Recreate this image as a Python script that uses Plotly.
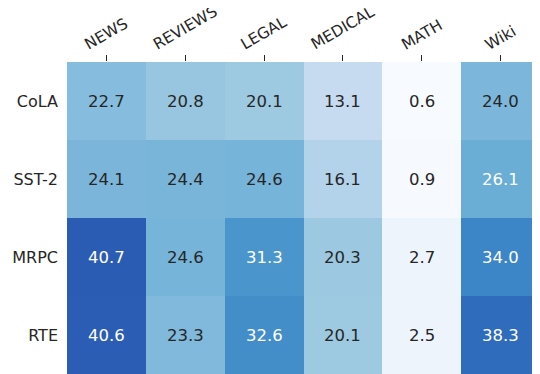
import plotly.graph_objects as go

domains = ["NEWS", "REVIEWS", "LEGAL", "MEDICAL", "MATH", "Wiki"]
tasks = ["CoLA", "SST-2", "MRPC", "RTE"]
cola = [22.7, 20.8, 20.1, 13.1, 0.6, 24.0]
sst2 = [24.1, 24.4, 24.6, 16.1, 0.9, 26.1]
mrpc = [40.7, 24.6, 31.3, 20.3, 2.7, 34.0]
rte = [40.6, 23.3, 32.6, 20.1, 2.5, 38.3]
z = [cola, sst2, mrpc, rte]

# colour anchors (value -> colour)
anchor_vals = [0.6, 2.6, 13.1, 16.1, 20.1, 22.7, 24.5, 26.1, 31.3, 34.0, 38.3, 40.7]
anchor_cols = ["#f7fbff", "#edf4fc", "#c6dbef", "#b3d3ea", "#9ecae1", "#86bcdd",
               "#78b4d9", "#6aaed6", "#4a95cb", "#3c85c7", "#2f6cbb", "#2b5cb4"]
zmin, zmax = anchor_vals[0], anchor_vals[-1]
colorscale = [[(v - zmin) / (zmax - zmin), c] for v, c in zip(anchor_vals, anchor_cols)]

FONT = "DejaVu Sans"
DARK = "#262626"

fig = go.Figure(go.Heatmap(
    z=z, x=domains, y=tasks, colorscale=colorscale, zmin=zmin, zmax=zmax,
    showscale=False, xgap=0, ygap=0, hoverinfo="skip"))

annotations = []
for r, row in enumerate(z):
    for c, val in enumerate(row):
        annotations.append(dict(
            x=domains[c], y=tasks[r], xref="x", yref="y", text=f"{val:.1f}",
            showarrow=False,
            font=dict(family=FONT, size=16.5,
                      color="#ffffff" if val > 25 else DARK)))

# rotated column labels centred on their ticks
for d in domains:
    annotations.append(dict(
        x=d, y=1, xref="x", yref="paper", text=d, textangle=-30,
        showarrow=False, xanchor="center", yanchor="bottom", yshift=7,
        borderpad=0, font=dict(family=FONT, size=15.5, color=DARK)))

fig.update_layout(
    width=532, height=366,
    margin=dict(l=59, r=0, t=54, b=0, autoexpand=False),
    paper_bgcolor="white", plot_bgcolor="white",
    font=dict(family=FONT, size=16, color=DARK),
    annotations=annotations,
    xaxis=dict(side="top", showticklabels=False, ticks="outside", ticklen=6,
               tickwidth=1.2, tickcolor=DARK, showgrid=False, zeroline=False,
               automargin=False),
    yaxis=dict(autorange="reversed", ticks="", showgrid=False, zeroline=False,
               automargin=False, ticklabelstandoff=8,
               tickfont=dict(family=FONT, size=16, color=DARK)),
)
fig.write_html("out.html")
